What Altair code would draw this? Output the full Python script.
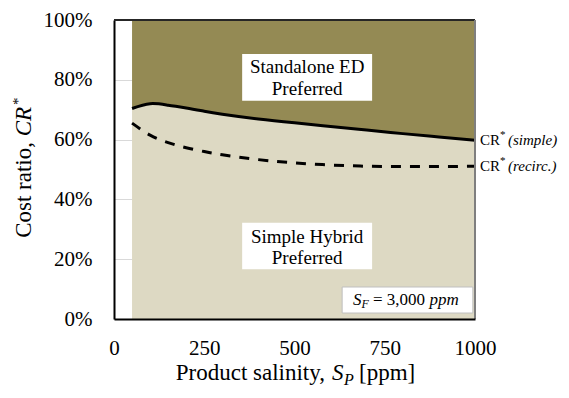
import altair as alt
import pandas as pd

# ---- data ----
sp = [50, 100, 150, 200, 250, 300, 400, 500, 600, 700, 800, 900, 1000]
cr_simple = [70.4, 72.0, 71.5, 70.6, 69.5, 68.5, 66.9, 65.6, 64.4, 63.2, 62.0, 60.9, 59.8]
cr_recirc = [65.5, 61.5, 59.0, 57.3, 56.0, 54.9, 53.3, 52.2, 51.5, 51.1, 51.0, 51.0, 51.1]
x_ticks = [0, 250, 500, 750, 1000]
y_ticks = [0, 20, 40, 60, 80, 100]

FONT = "Liberation Serif, Times New Roman, serif"
W, H = 361, 299
INTERP = "natural"

df = pd.DataFrame({"sp": sp, "simple": cr_simple, "recirc": cr_recirc})
one = pd.DataFrame({"k": [0]})

xs = alt.Scale(domain=[0, 1000], nice=False, zero=False)
ys = alt.Scale(domain=[0, 100], nice=False)
xa = alt.Axis(values=x_ticks, title=None, grid=False, ticks=False, labelPadding=18,
              labelFont=FONT, labelFontSize=21, labelColor="black", format="d",
              domainColor="black", domainWidth=2, labelFlush=False, zindex=1)
ya = alt.Axis(values=y_ticks, title=None, grid=True, gridColor="#D9D9D9", gridWidth=1,
              ticks=False, labelPadding=22, labelFont=FONT, labelFontSize=21,
              labelColor="black", domainColor="black", domainWidth=2,
              labelExpr="datum.value + '%'")

X = alt.X("sp:Q", scale=xs, axis=xa)

lower = alt.Chart(df).mark_area(color="#DDD9C3", interpolate=INTERP).encode(
    x=X, y=alt.Y("simple:Q", scale=ys, axis=ya), y2=alt.datum(0))
upper = alt.Chart(df).mark_area(color="#948A54", interpolate=INTERP).encode(
    x=X, y=alt.Y("simple:Q", scale=ys, axis=ya), y2=alt.datum(100))
line_s = alt.Chart(df).mark_line(color="black", strokeWidth=3, interpolate=INTERP).encode(
    x=X, y=alt.Y("simple:Q", scale=ys, axis=ya))
line_r = alt.Chart(df).mark_line(color="black", strokeWidth=3, strokeDash=[10, 9],
                                 strokeCap="butt", interpolate=INTERP).encode(
    x=X, y=alt.Y("recirc:Q", scale=ys, axis=ya))


def box(x1, x2, y1, y2, stroke=None):
    kw = dict(color="white")
    if stroke:
        kw.update(stroke=stroke, strokeWidth=1)
    return alt.Chart(one).mark_rect(**kw).encode(
        x=alt.datum(x1), x2=alt.datum(x2), y=alt.datum(y1), y2=alt.datum(y2))


def label(text, x, y, size=19, style="normal", align="center", dx=0, dy=0):
    return alt.Chart(one).mark_text(text=text, font=FONT, fontSize=size, fontStyle=style,
                                    align=align, baseline="middle", dx=dx, dy=dy,
                                    color="black").encode(x=alt.datum(x), y=alt.datum(y))


def ptext(text, px, py, size=23, style="normal", align="left", angle=0):
    return alt.Chart(one).mark_text(text=text, font=FONT, fontSize=size, fontStyle=style,
                                    align=align, baseline="alphabetic", angle=angle,
                                    color="black").encode(x=alt.value(px), y=alt.value(py))


annotations = [
    box(355, 715, 73.0, 88.6),
    label("Standalone ED", 535, 84.4),
    label("Preferred", 535, 76.9),
    box(355, 715, 16.6, 32.2),
    label("Simple Hybrid", 535, 27.4),
    label("Preferred", 535, 20.5),
    box(632, 994, 2.0, 10.7, stroke="#BFBFBF"),
    label("S", 662, 6.3, size=17, style="italic", align="left"),
    label("F", 662, 6.3, size=12, style="italic", align="left", dx=8.5, dy=4),
    label("= 3,000", 662, 6.3, size=17, align="left", dx=20),
    label("ppm", 662, 6.3, size=17, style="italic", align="left", dx=76.5),
]

end_labels = []
for name, vals in [("(simple)", cr_simple), ("(recirc.)", cr_recirc)]:
    end_labels += [
        label("CR", 1000, vals[-1], size=15, align="left", dx=5),
        label("*", 1000, vals[-1], size=11, align="left", dx=25, dy=-5),
        label(name, 1000, vals[-1], size=15, style="italic", align="left", dx=33),
    ]

titles = [
    # x axis title
    ptext("Product salinity,", 211, 360, align="right"),
    ptext("S", 218, 360, style="italic"),
    ptext("P", 230, 365, size=16, style="italic"),
    ptext("[ppm]", 245, 360),
    # y axis title (rotated)
    ptext("Cost ratio,", -83, 122, align="right", angle=270),
    ptext("CR", -83, 116.3, style="italic", angle=270),
    ptext("*", -91, 85, size=15, angle=270),
]

frame = [
    alt.Chart(one).mark_rule(color="#262626", strokeWidth=2).encode(
        x=alt.datum(0), x2=alt.datum(1000), y=alt.datum(100)),
    alt.Chart(one).mark_rule(color="#7F7F7F", strokeWidth=2).encode(
        x=alt.datum(1000), y=alt.datum(0), y2=alt.datum(100)),
]

chart = alt.layer(lower, upper, *annotations, line_r, line_s, *end_labels,
                  *titles, *frame).properties(
    width=W, height=H,
    padding={"left": 106, "top": 12, "right": 86, "bottom": 71},
    autosize=alt.AutoSizeParams(type="none"),
).configure_view(stroke=None)

chart.save("out.html", embed_options={"renderer": "svg", "actions": False})
